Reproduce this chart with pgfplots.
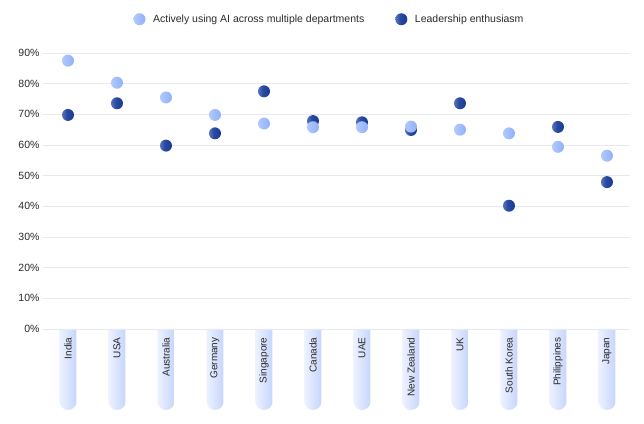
\documentclass[border=0pt]{standalone}
\usepackage{fontspec}
\setmainfont{Liberation Sans}
\usepackage{pgfplots}
\pgfplotsset{compat=1.18}

\definecolor{gridc}{HTML}{E7E9F2}
\definecolor{basec}{HTML}{B5C6F0}
\definecolor{txt}{HTML}{2A2A2A}
\definecolor{lightL}{HTML}{C6D8FF}
\definecolor{lightR}{HTML}{7FA5F8}
\definecolor{darkL}{HTML}{8FA6DA}
\definecolor{darkR}{HTML}{082B8E}
\definecolor{pillL}{HTML}{EDF2FF}
\definecolor{pillR}{HTML}{C6D5FC}

\pgfdeclarehorizontalshading{lightdot}{100bp}{color(0bp)=(lightL); color(35bp)=(lightL!60!lightR); color(100bp)=(lightR)}
\pgfdeclarehorizontalshading{darkdot}{100bp}{color(0bp)=(darkL); color(45bp)=(darkR!75!darkL); color(100bp)=(darkR)}
\pgfdeclareplotmark{lightdot}{\pgfpathcircle{\pgfpointorigin}{\pgfplotmarksize}\pgfshadepath{lightdot}{0}\pgfusepath{}}
\pgfdeclareplotmark{darkdot}{\pgfpathcircle{\pgfpointorigin}{\pgfplotmarksize}\pgfshadepath{darkdot}{0}\pgfusepath{}}

\begin{document}
\begin{tikzpicture}
\begin{axis}[
    set layers,
    scale only axis,
    width=587pt, height=276pt,
    xmin=-0.51, xmax=11.47,
    ymin=0, ymax=90,
    clip=false,
    axis line style={draw=none},
    ymajorgrids=true,
    grid style={gridc, line width=0.6pt},
    major tick length=0pt,
    ytick={0,10,...,90},
    yticklabel={\pgfmathprintnumber{\tick}\%},
    yticklabel style={font=\fontsize{10.5}{12}\selectfont, text=txt},
    xtick={0,...,11},
    xticklabels={India,USA,Australia,Germany,Singapore,Canada,UAE,New Zealand,UK,South Korea,Philippines,Japan},
    xticklabel style={rotate=90, anchor=east, font=\fontsize{10}{11}\selectfont, text=txt},
    xticklabel shift=5pt,
    /pgf/number format/assume math mode=true,
    legend columns=2,
    legend style={draw=none, fill=none, at={(0.5,1)}, anchor=south, yshift=25pt, xshift=-7pt,
        font=\fontsize{10.5}{12}\selectfont, text=txt,
        /tikz/every even column/.append style={column sep=29pt}},
    legend cell align=left,
    legend image code/.code={\draw[#1] plot coordinates {(0.05cm,0cm)}; \path (0.45cm,0cm);},
]
% decorative pills behind the category names
\begin{pgfonlayer}{axis background}
\pgfplotsinvokeforeach{0,...,11}{
  \path[left color=pillL, right color=pillR]
    ([xshift=-8.5pt]axis cs:#1,0) -- ([xshift=-8.5pt,yshift=-72.5pt]axis cs:#1,0)
    arc[start angle=180, end angle=360, radius=8.5pt]
    -- ([xshift=8.5pt]axis cs:#1,0) -- cycle;
}
\draw[basec, line width=0.8pt] (rel axis cs:0,0) -- (rel axis cs:1,0);
\end{pgfonlayer}

\addlegendimage{only marks, mark=lightdot, mark size=6pt}
\addlegendentry{Actively using AI across multiple departments}
\addlegendimage{only marks, mark=darkdot, mark size=6pt}
\addlegendentry{Leadership enthusiasm}

% Leadership enthusiasm (drawn first, underneath)
\addplot[only marks, mark=darkdot, mark size=6pt, forget plot] coordinates {
  (0,69.8)(1,73.6)(2,59.8)(3,63.8)(4,77.5)(5,67.8)(6,67.4)(7,64.9)(8,73.6)(9,40.2)(10,65.9)(11,47.9)
};
% Actively using AI across multiple departments
\addplot[only marks, mark=lightdot, mark size=6pt, forget plot] coordinates {
  (0,87.5)(1,80.3)(2,75.5)(3,69.8)(4,67.0)(5,65.8)(6,65.8)(7,66.0)(8,65.0)(9,63.8)(10,59.4)(11,56.5)
};
\end{axis}
\pgfresetboundingbox
\path[use as bounding box] ([xshift=-43pt,yshift=-95pt]current axis.south west)
  rectangle ([xshift=14pt,yshift=53pt]current axis.north east);
\end{tikzpicture}
\end{document}
